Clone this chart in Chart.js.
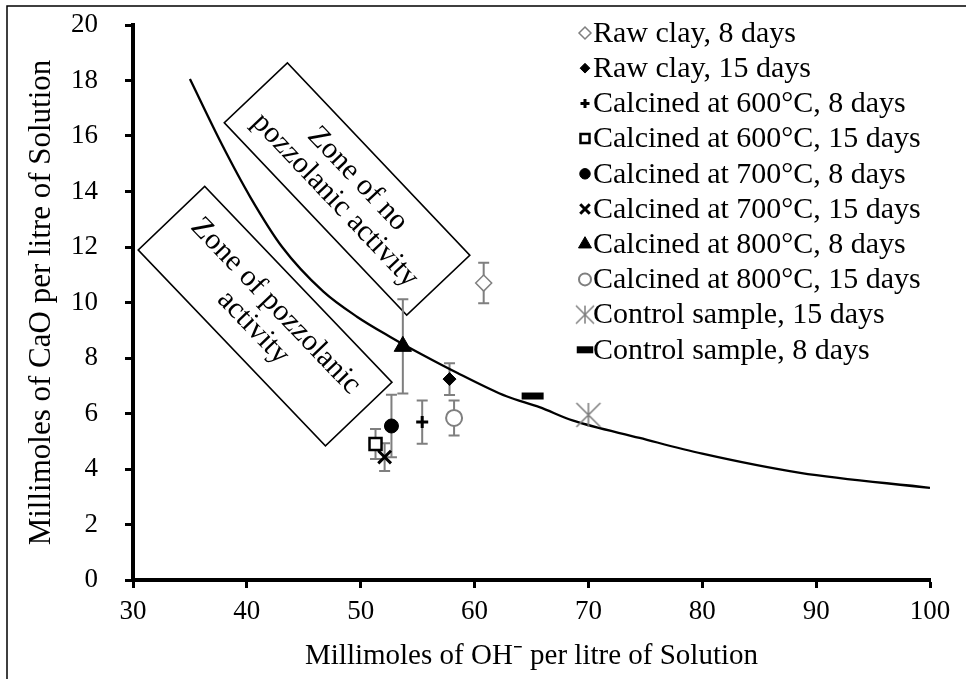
<!DOCTYPE html>
<html>
<head>
<meta charset="utf-8">
<script src="https://cdn.jsdelivr.net/npm/chart.js@4/dist/chart.umd.min.js"></script>
<style>
html,body{margin:0;padding:0;background:#fff;}
canvas{display:block;}
</style>
</head>
<body>
<canvas id="c" width="966" height="679"></canvas>
<script>
// ---------- data ----------
const seriesLabels = [
  'Raw clay, 8 days',
  'Raw clay, 15 days',
  'Calcined at 600°C, 8 days',
  'Calcined at 600°C, 15 days',
  'Calcined at 700°C, 8 days',
  'Calcined at 700°C, 15 days',
  'Calcined at 800°C, 8 days',
  'Calcined at 800°C, 15 days',
  'Control sample, 15 days',
  'Control sample, 8 days'
];
const ohValues  = [60.8, 57.8, 55.4, 51.3, 52.7, 52.1, 53.7, 58.2, 70.0, 65.1];
const caoValues = [10.7, 7.24, 5.69, 4.90, 5.55, 4.43, 8.42, 5.84, 5.95, 6.63];
const caoErrors = [0.73, 0.57, 0.78, 0.54, 1.13, 0.50, 1.70, 0.63, null, null];

const curveOH  = [35, 37.8, 40.3, 43.1, 46.7, 49.7, 52.6, 55.5, 58.5, 62.8, 65.7, 68.6, 74.5, 80, 88.6, 100];
const curveCaO = [18.05, 15.7, 13.8, 12.0, 10.4, 9.48, 8.76, 8.1, 7.46, 6.62, 6.23, 5.75, 5.12, 4.55, 3.86, 3.32];

const xTicks = [30, 40, 50, 60, 70, 80, 90, 100];
const yTicks = [0, 2, 4, 6, 8, 10, 12, 14, 16, 18, 20];

const zoneLabels = [
  ['Zone of no', 'pozzolanic activity'],
  ['Zone of pozzolanic', 'activity']
];
const zoneCentersOH  = [48.8, 41.6];
const zoneCentersCaO = [14.09, 9.51];

// ---------- styles ----------
const FONT = 'Liberation Serif, Times New Roman, serif';
const GRAY = '#7f7f7f';

function makeStar(r, color, lw) {
  const c = document.createElement('canvas');
  const s = 2 * r + 4; c.width = s; c.height = s;
  const g = c.getContext('2d'); const m = s / 2;
  g.strokeStyle = color; g.lineWidth = lw;
  g.beginPath();
  g.moveTo(m, m - r); g.lineTo(m, m + r);
  g.moveTo(m - r, m - r); g.lineTo(m + r, m + r);
  g.moveTo(m + r, m - r); g.lineTo(m - r, m + r);
  g.stroke();
  return c;
}
const starImg = makeStar(12, GRAY, 1.6);
const starImgSmall = makeStar(9, GRAY, 1.5);

const markerStyles = [
  {pointStyle: 'rectRot',  radius: 8,  borderWidth: 1.5, borderColor: GRAY,   backgroundColor: '#fff'},
  {pointStyle: 'rectRot',  radius: 6.5,borderWidth: 1,   borderColor: '#000', backgroundColor: '#000'},
  {pointStyle: 'cross',    radius: 6,  borderWidth: 3,   borderColor: '#000', backgroundColor: '#000'},
  {pointStyle: 'rect',     radius: 8.5,borderWidth: 2.5, borderColor: '#000', backgroundColor: '#fff'},
  {pointStyle: 'circle',   radius: 7,  borderWidth: 1,   borderColor: '#000', backgroundColor: '#000'},
  {pointStyle: 'crossRot', radius: 9,  borderWidth: 3,   borderColor: '#000', backgroundColor: '#000'},
  {pointStyle: 'triangle', radius: 10, borderWidth: 1,   borderColor: '#000', backgroundColor: '#000'},
  {pointStyle: 'circle',   radius: 8,  borderWidth: 2,   borderColor: GRAY,   backgroundColor: '#fff'},
  {pointStyle: starImg,    radius: 12, borderWidth: 1,   borderColor: GRAY,   backgroundColor: GRAY},
  {pointStyle: 'line',     radius: 11, borderWidth: 7,   borderColor: '#000', backgroundColor: '#000'}
];

const datasets = seriesLabels.map((lab, i) => ({
  label: lab,
  data: [{x: ohValues[i], y: caoValues[i]}],
  err: caoErrors[i],
  showLine: false,
  pointStyle: markerStyles[i].pointStyle,
  pointRadius: markerStyles[i].radius,
  pointBorderWidth: markerStyles[i].borderWidth,
  pointBorderColor: markerStyles[i].borderColor,
  pointBackgroundColor: markerStyles[i].backgroundColor,
  order: 1
}));
datasets.push({
  label: 'curve',
  data: curveOH.map((x, i) => ({x: x, y: curveCaO[i]})),
  showLine: true,
  borderColor: '#000',
  borderWidth: 2.3,
  pointRadius: 0,
  cubicInterpolationMode: 'monotone',
  order: 2
});

// ---------- plugins ----------
const frame = {
  id: 'frame',
  beforeDraw(chart) {
    const c = chart.ctx;
    c.save();
    c.fillStyle = '#fff'; c.fillRect(0, 0, chart.width, chart.height);
    c.strokeStyle = '#000'; c.lineWidth = 1.5;
    c.beginPath();
    c.moveTo(966, 6); c.lineTo(7, 6); c.lineTo(7, 679);
    c.stroke();
    c.restore();
  }
};

const errorBars = {
  id: 'errorBars',
  beforeDatasetsDraw(chart) {
    const c = chart.ctx, xs = chart.scales.x, ys = chart.scales.y;
    c.save();
    c.strokeStyle = GRAY; c.lineWidth = 2;
    chart.data.datasets.forEach(ds => {
      if (ds.err == null) return;
      const p = ds.data[0];
      const px = xs.getPixelForValue(p.x);
      const top = ys.getPixelForValue(p.y + ds.err);
      const bot = ys.getPixelForValue(p.y - ds.err);
      c.beginPath();
      c.moveTo(px, top); c.lineTo(px, bot);
      c.moveTo(px - 5.5, top); c.lineTo(px + 5.5, top);
      c.moveTo(px - 5.5, bot); c.lineTo(px + 5.5, bot);
      c.stroke();
    });
    c.restore();
  }
};

const zones = {
  id: 'zones',
  beforeDatasetsDraw(chart) {
    const c = chart.ctx, xs = chart.scales.x, ys = chart.scales.y;
    const dims = [[265, 87, 46.5], [271, 92, 46.3]];
    c.save();
    zoneLabels.forEach((lines, i) => {
      const cx = xs.getPixelForValue(zoneCentersOH[i]);
      const cy = ys.getPixelForValue(zoneCentersCaO[i]);
      const [w, h, ang] = dims[i];
      c.save();
      c.translate(cx, cy);
      c.rotate(ang * Math.PI / 180);
      c.strokeStyle = '#000'; c.lineWidth = 1.6;
      c.strokeRect(-w / 2, -h / 2, w, h);
      c.fillStyle = '#000';
      c.font = '30px ' + FONT;
      c.textAlign = 'center'; c.textBaseline = 'middle';
      const lh = 31;
      lines.forEach((t, k) => {
        c.fillText(t, 0, (k - (lines.length - 1) / 2) * lh + 1);
      });
      c.restore();
    });
    c.restore();
  }
};

const legendPlugin = {
  id: 'customLegend',
  afterDraw(chart) {
    const c = chart.ctx;
    const x0 = 585, y0 = 33, step = 35.2;
    c.save();
    c.font = '30px ' + FONT;
    c.textAlign = 'left'; c.textBaseline = 'middle';
    seriesLabels.forEach((lab, i) => {
      const y = y0 + i * step;
      const ms = markerStyles[i];
      c.save();
      c.strokeStyle = ms.borderColor; c.fillStyle = ms.backgroundColor;
      c.lineWidth = ms.borderWidth;
      const opts = {
        pointStyle: (i === 8) ? starImgSmall : ms.pointStyle,
        radius: ms.radius * 0.75,
        rotation: 0,
        borderWidth: ms.borderWidth
      };
      if (Chart.helpers && Chart.helpers.drawPoint) {
        Chart.helpers.drawPoint(c, opts, x0, y);
      }
      c.restore();
      c.fillStyle = '#000';
      c.fillText(lab, x0 + 8, y + 1);
    });
    c.restore();
  }
};

// ---------- chart ----------
new Chart(document.getElementById('c'), {
  type: 'scatter',
  data: {datasets: datasets},
  plugins: [frame, zones, errorBars, legendPlugin],
  options: {
    responsive: false,
    animation: false,
    devicePixelRatio: 1,
    layout: {padding: {top: 25, right: 36, left: 0, bottom: 0}},
    plugins: {legend: {display: false}, tooltip: {enabled: false}},
    scales: {
      x: {
        type: 'linear', min: 30, max: 100,
        afterBuildTicks(s) { s.ticks = xTicks.map(v => ({value: v})); },
        ticks: {color: '#000', font: {family: FONT, size: 27}, padding: 8, maxRotation: 0},
        grid: {drawOnChartArea: false, drawTicks: true, tickLength: 8, tickWidth: 3, tickColor: '#000'},
        border: {display: true, color: '#000', width: 4},
        title: {display: true, text: 'Millimoles of OH⁻ per litre of Solution', color: '#000',
                font: {family: FONT, size: 29}, padding: {top: 0, bottom: 5}},
        afterFit(s) { s.height = 99; }
      },
      y: {
        type: 'linear', min: 0, max: 20,
        afterBuildTicks(s) { s.ticks = yTicks.map(v => ({value: v})); },
        ticks: {color: '#000', font: {family: FONT, size: 27}, padding: 27},
        grid: {drawOnChartArea: false, drawTicks: true, tickLength: 8, tickWidth: 3, tickColor: '#000'},
        border: {display: true, color: '#000', width: 4},
        title: {display: true, text: 'Millimoles of CaO per litre of Solution', color: '#000',
                font: {family: FONT, size: 31}, padding: {top: 23, bottom: 0}},
        afterFit(s) { s.width = 133; s.paddingTop = 10; s.paddingBottom = 10; }
      }
    }
  }
});
</script>
</body>
</html>
